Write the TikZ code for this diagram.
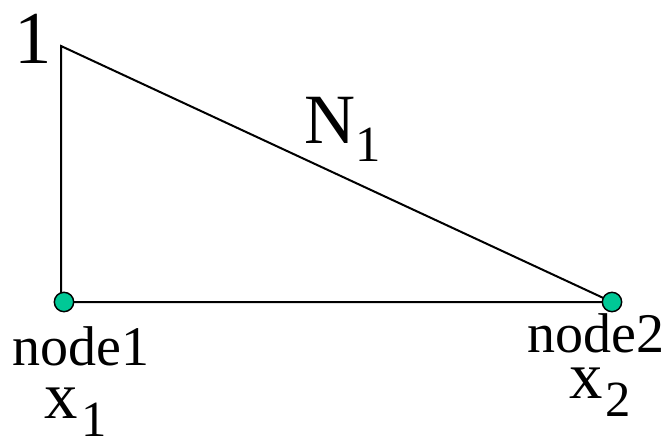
\documentclass[tikz,border=0pt]{standalone}
\usepackage{fontspec}
\setmainfont{Liberation Serif}
\usetikzlibrary{positioning}
\definecolor{NodeTeal}{HTML}{00C896}
\newcommand{\lowidx}[1]{\raisebox{-14pt}{\fontsize{38}{40}\selectfont #1}}
\tikzset{
    % element edges and nodal points
    edge line/.style={
        line width=1.5pt,
        black
    },
    dot node/.style={
        circle,
        draw=black,
        fill=NodeTeal,
        line width=1.1pt,
        minimum size=14.5pt,
        inner sep=0pt
    },
    % labels, placed by their baseline
    label text/.style={
        anchor=base west,
        inner sep=0pt,
        font=\fontsize{42}{46}\selectfont
    },
    big text/.style={
        label text,
        font=\fontsize{53}{58}\selectfont
    }
}
\begin{document}
\begin{tikzpicture}[x=0.75pt, y=-0.75pt]
    \useasboundingbox (0,0) rectangle (672,439);

    % corners of the shape function
    \coordinate (top) at (61,46);
    \coordinate (left) at (61,302);
    \coordinate (p1) at (64,302);
    \coordinate (p2) at (612,302);

    % triangle
    \draw[edge line] (top) -- (left) -- (p2) -- cycle;

    % nodes
    \node[dot node] (node1) at (p1) {};
    \node[dot node] (node2) at (p2) {};

    % labels
    \node[big text, font=\fontsize{56}{60}\selectfont] (one) at (14,63) {1};
    \node[big text] (shape) at (304,143) {N\lowidx{1}};
    \node[label text] (name1) at (12,365) {node1};
    \node[big text, font=\fontsize{50}{54}\selectfont] (coord1) at (44,418) {x\kern3pt\lowidx{1}};
    \node[label text] (name2) at (527,352) {node2};
    \node[big text, font=\fontsize{50}{54}\selectfont] (coord2) at (569,398) {x\kern2pt\lowidx{2}};
\end{tikzpicture}
\end{document}
